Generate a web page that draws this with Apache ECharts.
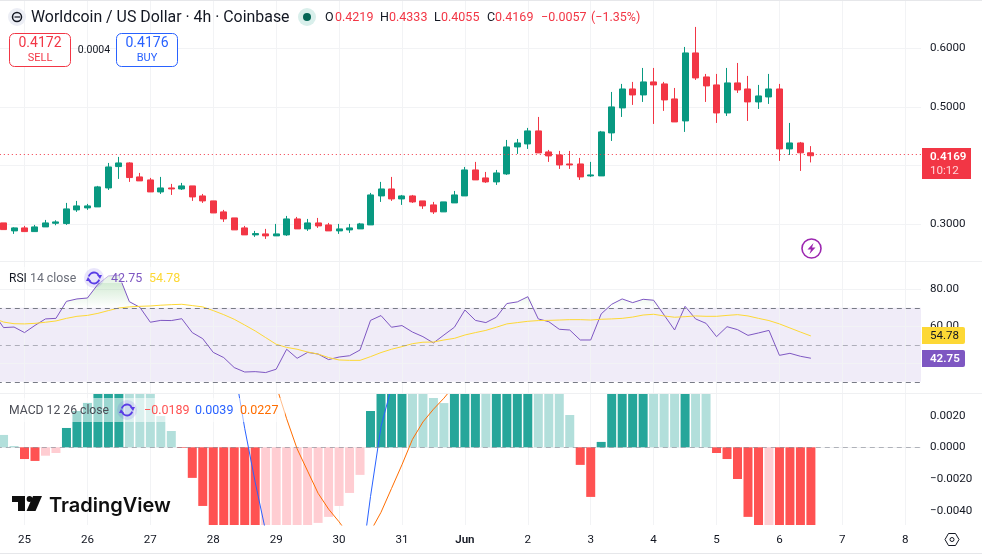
<!DOCTYPE html>
<html>
<head>
<meta charset="utf-8">
<title>Worldcoin / US Dollar</title>
<script src="https://cdn.jsdelivr.net/npm/echarts@6/dist/echarts.min.js"></script>
<style>
  html, body { margin: 0; padding: 0; background: #fff; }
  #chart { width: 982px; height: 556px; }
</style>
</head>
<body>
<div id="chart"></div>
<script>
// Four-hour bars: open, close, low, high. The first bar lies just left of the visible range.
const candles = [
  [.3050,.3024,.3000,.3070],
  [.3024,.2910,.2910,.3024],[.2888,.2939,.2837,.2950],[.2939,.2876,.2871,.2973],[.2876,.2956,.2871,.2990],
  [.2956,.3024,.2956,.3075],[.3018,.3041,.2984,.3069],[.3013,.3263,.2990,.3365],[.3246,.3314,.3212,.3399],
  [.3280,.3314,.3246,.3348],[.3297,.3638,.3297,.3655],[.3620,.3978,.3586,.4046],[.3984,.4046,.3774,.4149],
  [.4046,.3797,.3723,.4058],[.3808,.3740,.3740,.3876],[.3757,.3552,.3552,.3791],[.3552,.3620,.3518,.3808],
  [.3620,.3603,.3501,.3689],[.3603,.3655,.3586,.3706],[.3655,.3467,.3399,.3655],[.3484,.3399,.3365,.3518],
  [.3399,.3194,.3194,.3399],[.3212,.3092,.3041,.3246],[.3109,.2905,.2905,.3109],[.2939,.2820,.2820,.2973],
  [.2820,.2842,.2786,.2888],[.2837,.2803,.2751,.2922],[.2803,.2837,.2803,.3007],[.2820,.3092,.2803,.3143],
  [.3092,.2922,.2922,.3126],[.2922,.3024,.2888,.3092],[.3024,.2973,.2939,.3109],[.2990,.2888,.2888,.3024],
  [.2888,.2922,.2837,.3007],[.2905,.2939,.2854,.3007],[.2922,.3007,.2922,.3024],[.2990,.3501,.2990,.3535],
  [.3484,.3603,.3382,.3723],[.3603,.3433,.3399,.3808],[.3433,.3484,.3331,.3501],[.3484,.3382,.3365,.3501],
  [.3399,.3314,.3263,.3399],[.3331,.3212,.3177,.3382],[.3212,.3382,.3212,.3382],[.3365,.3501,.3365,.3569],
  [.3484,.3927,.3484,.3978],[.3927,.3757,.3757,.4064],[.3791,.3723,.3706,.3893],[.3723,.3876,.3672,.3927],
  [.3859,.4319,.3842,.4438],[.4319,.4387,.4200,.4455],[.4370,.4592,.4285,.4643],[.4592,.4217,.4217,.4830],
  [.4234,.4166,.4064,.4268],[.4183,.4012,.3944,.4251],[.4029,.4012,.3944,.4251],[.4029,.3808,.3757,.4132],
  [.3825,.3842,.3808,.4064],[.3825,.4575,.3825,.4592],[.4558,.5001,.4421,.5256],[.4984,.5307,.4830,.5393],
  [.5307,.5205,.5035,.5427],[.5205,.5427,.5086,.5665],[.5427,.5376,.4711,.5665],[.5393,.5120,.4933,.5427],
  [.5137,.4745,.4745,.5324],[.4762,.5921,.4575,.6023],[.5921,.5495,.5461,.6364],[.5512,.5359,.5086,.5563],
  [.5376,.4898,.4728,.5563],[.4898,.5410,.4847,.5665],[.5410,.5290,.5239,.5750],[.5307,.5086,.4762,.5529],
  [.5086,.5188,.4967,.5376],[.5171,.5307,.5052,.5563],[.5307,.4285,.4081,.5393],[.4285,.4387,.4183,.4728],
  [.4387,.4219,.3910,.4404],[.4219,.4169,.4055,.4333]
];

const rsiValues = [
  67.4,
  59.3,59.6,56.6,60.5,64.0,64.3,73.5,74.8,75.3,82.7,87.2,87.6,73.3,70.3,62.2,63.2,63.1,64.1,56.6,53.3,
  45.9,43.1,37.7,35.3,35.5,35.0,36.8,47.6,42.7,45.9,45.0,42.0,43.4,44.1,47.2,63.2,65.8,59.5,60.4,56.9,
  54.4,51.0,55.3,59.5,68.8,63.2,62.0,64.9,72.3,73.2,76.0,64.0,62.5,58.4,58.0,52.6,52.6,66.7,71.9,74.8,
  72.8,74.6,74.1,66.1,58.0,70.8,64.0,61.6,54.4,59.8,58.2,55.1,56.4,57.8,44.3,45.4,43.8,42.75
];

const rsiAverage = [
  64.5,
  62.3,61.4,61.3,61.6,62.2,62.9,64.3,65.4,65.9,67.0,68.5,69.9,70.5,70.8,71.0,71.4,71.7,71.9,71.2,70.5,
  68.5,66.3,63.8,60.7,57.5,53.9,50.3,48.6,47.6,46.1,45.0,43.1,41.8,41.6,41.6,43.6,45.8,47.6,49.0,50.6,
  51.4,51.5,52.6,53.5,55.3,56.6,57.8,59.5,61.3,62.0,62.7,63.1,63.2,63.4,63.6,63.6,63.4,63.8,64.0,64.3,
  65.0,66.1,66.5,65.6,64.9,65.2,65.6,65.4,65.4,65.9,66.3,65.6,64.3,63.1,61.3,59.1,56.9,54.78
];

const macdHistogram = [
  .00095,
  .00078,.00008,-.00074,-.00086,-.00053,-.00036,.00122,.00229,.0028,.0040,.0048,.0052,.0048,.0040,.0034,.00197,
  .00103,-.00004,-.00193,-.0037,-.0060,-.0075,-.0090,-.0105,-.0115,-.0110,-.0100,-.0085,-.0072,-.0058,-.00477,-.00439,
  -.0037,-.00288,-.00174,.00229,.0054,.0065,.0080,.0075,.0060,.00311,.00279,.0045,.0060,.0075,.0068,.0078,
  .0095,.0110,.0120,.0105,.0085,.0050,.00204,-.00111,-.00313,.00034,.0040,.0062,.0072,.0085,.0080,.0074,
  .0068,.0090,.0075,.0050,-.00036,-.00074,-.0020,-.00439,-.0065,-.0060,-.0115,-.0140,-.0165,-.0189
];

const macdLine = [
  .0062,
  .0060,.0058,.0052,.0048,.0052,.0058,.0075,.0095,.0125,.0160,.0205,.0235,.0235,.0225,.0205,.0190,.0175,.0160,.0130,.0105,
  .0085,.0085,.0051,.0012,-.0022,-.0053,-.0080,-.0098,-.0110,-.0125,-.0135,-.0140,-.0135,-.0125,-.0081,-.0031,.0013,.0038,.0065,.0085,
  .0090,.0085,.0085,.0095,.0115,.0135,.0150,.0175,.0210,.0245,.0275,.0280,.0270,.0240,.0220,.0190,.0180,.0215,.0270,.0320,
  .0350,.0385,.0395,.0400,.0395,.0430,.0430,.0395,.0365,.0345,.0310,.0260,.0225,.0210,.0135,.0095,.0065,.0039
];

const macdSignal = [
  .0066,
  .0065,.0064,.0062,.0060,.0059,.0058,.0060,.0065,.0075,.0085,.0100,.0118,.0135,.0150,.0160,.0168,.0172,.0170,.0165,.0155,
  .0142,.0128,.0112,.0098,.0082,.0058,.0039,.0018,-.0001,-.0015,-.0029,-.0039,-.0047,-.0056,-.0057,-.0053,-.0041,-.0026,-.0011,.0005,
  .0016,.0024,.0031,.0039,.0051,.0065,.0082,.0098,.0115,.0135,.0155,.0175,.0190,.0205,.0215,.0213,.0208,.0210,.0220,.0240,
  .0265,.0290,.0310,.0325,.0335,.0345,.0355,.0360,.0360,.0360,.0355,.0345,.0335,.0320,.0300,.0280,.0253,.0227
];

const dayLabels = ['25','26','27','28','29','30','31','Jun','2','3','4','5','6','7','8'];
const priceTicks = [0.6, 0.5, 0.4, 0.3];
const priceTickLabels = [0.6, 0.5, 0.3];
const rsiGridTicks = [80, 60, 40];
const rsiTickLabels = [80, 60];
const macdGridTicks = [0.002, -0.002, -0.004];
const macdTickLabels = [0.002, 0, -0.002, -0.004];
const lastClose = 0.4169;

const UI_FONT = 'Roboto, "Noto Sans", sans-serif';
const TEXT = '#131722';
const MUTED = '#6a6d78';
const GRID = '#f2f3f5';
const UP = '#089981';
const DOWN = '#f23645';

const barCount = 89;
const firstDayBar = 3;
const barsPerDay = 6;
const dayIndex = dayLabels.map((_, i) => firstDayBar + i * barsPerDay);
const categories = Array.from({ length: barCount }, (_, i) => {
  const at = dayIndex.indexOf(i);
  return at >= 0 ? dayLabels[at] : 'bar' + i;
});

// Histogram shade depends on the sign and on whether the value grew since the previous bar
const histogramColor = macdHistogram.map((v, i) => {
  const rising = i > 0 && v > macdHistogram[i - 1];
  if (v >= 0) return rising ? '#26a69a' : '#b2dfdb';
  return rising ? '#ffcdd2' : '#ff5252';
});

const overbought = rsiValues.map(v => Math.max(v, 70));

// The leading bars sit off the left edge, so the panes overhang the canvas
const gridFrame = { left: -12.185, width: 933.185, outerBoundsMode: 'none' };
const grids = [
  { ...gridFrame, top: 1, height: 260 },
  { ...gridFrame, top: 261, height: 132.5 },
  { ...gridFrame, top: 394, height: 131 }
];

function xAxisFor(gridIndex, showLabels) {
  return {
    type: 'category', gridIndex, data: categories, boundaryGap: true,
    axisLine: { show: false }, axisTick: { show: false }, splitLine: { show: false },
    axisLabel: {
      show: showLabels, margin: 9, fontFamily: UI_FONT, fontSize: 11.6, color: TEXT,
      interval: i => dayIndex.includes(i), hideOverlap: false,
      formatter: v => v === 'Jun' ? '{m|Jun}' : v,
      rich: { m: { fontFamily: UI_FONT, fontSize: 11.6, fontWeight: 600, color: TEXT } }
    }
  };
}

function yAxisFor(gridIndex, min, max, customValues, decimals) {
  return {
    type: 'value', gridIndex, position: 'right', min, max, scale: true,
    axisLine: { show: false }, axisTick: { show: false }, splitLine: { show: false },
    axisLabel: {
      margin: 9, fontFamily: UI_FONT, fontSize: 11.6, color: TEXT, align: 'left', padding: [2, 0, 0, 0], customValues,
      formatter: v => v.toFixed(decimals).replace('-', '\u2212')
    }
  };
}

// Carrier series for the pane's faint grid
function gridSeries(i, yValues) {
  const lines = dayIndex.map(x => ({ xAxis: x })).concat(yValues.map(y => ({ yAxis: y })));
  return {
    type: 'line', xAxisIndex: i, yAxisIndex: i, data: [], z: 1, silent: true,
    markLine: {
      z: 1, silent: true, symbol: 'none', label: { show: false }, animation: false,
      lineStyle: { color: GRID, width: 1, type: 'solid' }, data: lines
    }
  };
}

function hline(y, x1, x2, color, type) {
  return { type: 'line', z: 40, shape: { x1, y1: y, x2, y2: y }, style: { stroke: color, lineWidth: 1, lineDash: type } };
}
function label(text, x, y, fill, font, align) {
  return { type: 'text', z: 70, style: { text, x, y: y + 0.8, fill, font, textAlign: align || 'left', textVerticalAlign: 'middle' } };
}
function refreshIcon(cx, cy) {
  return [
    { type: 'circle', z: 60, shape: { cx, cy, r: 10 }, style: { fill: 'rgba(98,70,230,0.14)' } },
    { type: 'arc', z: 61, shape: { cx, cy, r: 5.5, startAngle: 3.4, endAngle: 5.7 }, style: { stroke: '#5a3de6', lineWidth: 1.8, fill: null } },
    { type: 'arc', z: 61, shape: { cx, cy, r: 5.5, startAngle: 0.3, endAngle: 2.6 }, style: { stroke: '#5a3de6', lineWidth: 1.8, fill: null } },
    { type: 'polygon', z: 61, shape: { points: [[cx + 3, cy - 3], [cx + 8, cy - 3], [cx + 6, cy + 1]] }, style: { fill: '#5a3de6' } },
    { type: 'polygon', z: 61, shape: { points: [[cx - 3, cy + 3], [cx - 8, cy + 3], [cx - 6, cy - 1]] }, style: { fill: '#5a3de6' } }
  ];
}

const HEAD = '12.5px ' + UI_FONT;
const overlay = [
  // frame lines
  hline(0.5, 0, 982, '#e6e7ea'), hline(553.5, 0, 982, '#e6e7ea'),
  hline(261.5, 0, 982, '#eff0f2'), hline(393.5, 0, 982, '#eff0f2'),

  // veils behind the pane captions
  { type: 'rect', z: 50, shape: { x: 0, y: 267, width: 184, height: 16 }, style: { fill: 'rgba(255,255,255,0.55)' } },
  { type: 'rect', z: 50, shape: { x: 0, y: 398, width: 285, height: 24 }, style: { fill: 'rgba(255,255,255,0.55)' } },

  // header line
  { type: 'circle', z: 60, shape: { cx: 17, cy: 17, r: 9 }, style: { fill: '#eceef5' } },
  { type: 'circle', z: 61, shape: { cx: 17, cy: 17, r: 4.5 }, style: { fill: null, stroke: TEXT, lineWidth: 1.5 } },
  { type: 'line', z: 61, shape: { x1: 14.5, y1: 17, x2: 20, y2: 17 }, style: { stroke: TEXT, lineWidth: 1.2 } },
  label('Worldcoin / US Dollar \u00b7 4h \u00b7 Coinbase', 31, 17.5, TEXT, '15.9px ' + UI_FONT),
  { type: 'circle', z: 60, shape: { cx: 307, cy: 17, r: 9 }, style: { fill: '#d9efeb' } },
  { type: 'circle', z: 61, shape: { cx: 307, cy: 17, r: 4 }, style: { fill: '#056656' } },
  label('O', 325, 17.5, TEXT, HEAD), label('0.4219', 335, 17.5, DOWN, HEAD),
  label('H', 380, 17.5, TEXT, HEAD), label('0.4333', 389, 17.5, DOWN, HEAD),
  label('L', 434, 17.5, TEXT, HEAD), label('0.4055', 441, 17.5, DOWN, HEAD),
  label('C', 487, 17.5, TEXT, HEAD), label('0.4169', 495, 17.5, DOWN, HEAD),
  label('\u22120.0057', 541, 17.5, DOWN, HEAD), label('(\u22121.35%)', 591, 17.5, DOWN, HEAD),

  // sell / buy boxes
  { type: 'rect', z: 60, shape: { x: 9.5, y: 33.5, width: 61, height: 33, r: 5 }, style: { fill: '#fff', stroke: DOWN, lineWidth: 1 } },
  label('0.4172', 40, 43, DOWN, '14px ' + UI_FONT, 'center'), label('SELL', 40, 57.5, DOWN, '11px ' + UI_FONT, 'center'),
  label('0.0004', 94, 50, TEXT, '10.5px ' + UI_FONT, 'center'),
  { type: 'rect', z: 60, shape: { x: 116.5, y: 33.5, width: 61, height: 33, r: 5 }, style: { fill: '#fff', stroke: '#2962ff', lineWidth: 1 } },
  label('0.4176', 147, 43, '#2962ff', '14px ' + UI_FONT, 'center'), label('BUY', 147, 57.5, '#2962ff', '11px ' + UI_FONT, 'center'),

  // last price tag
  { type: 'rect', z: 60, shape: { x: 922, y: 148, width: 49, height: 31 }, style: { fill: DOWN } },
  label('0.4169', 930, 156, '#fff', '600 11.6px ' + UI_FONT), label('10:12', 930, 170.5, '#ffd5d9', '11.6px ' + UI_FONT),

  // lightning badge
  { type: 'circle', z: 60, shape: { cx: 811.5, cy: 248.5, r: 9.5 }, style: { fill: '#fff', stroke: '#9c27b0', lineWidth: 1.6 } },
  { type: 'polygon', z: 61, shape: { points: [[813.5, 243], [807.5, 249.5], [811, 249.5], [809.5, 254], [815.5, 247.5], [812, 247.5]] }, style: { fill: '#9c27b0' } },

  // RSI caption and tags
  label('RSI', 9, 278.5, TEXT, '12px ' + UI_FONT), label('14 close', 30, 278.5, MUTED, '12.3px ' + UI_FONT),
  ...refreshIcon(94, 278),
  label('42.75', 111, 278.5, '#7e57c2', HEAD), label('54.78', 149, 278.5, '#fdd835', HEAD),
  { type: 'rect', z: 60, shape: { x: 922, y: 327, width: 43, height: 17, r: [0, 2, 2, 0] }, style: { fill: '#fdd835' } },
  label('54.78', 930, 335, TEXT, '11.6px ' + UI_FONT),
  { type: 'rect', z: 60, shape: { x: 922, y: 350, width: 43, height: 17, r: [0, 2, 2, 0] }, style: { fill: '#7e57c2' } },
  label('42.75', 930, 358, '#fff', '600 11.6px ' + UI_FONT),

  // MACD caption
  label('MACD 12 26 close', 9, 410, '#4c4e57', '12.2px ' + UI_FONT),
  ...refreshIcon(127, 410),
  label('\u22120.0189', 144, 410, '#ff5252', HEAD),
  label('0.0039', 195, 410, '#2962ff', HEAD),
  label('0.0227', 240, 410, '#ff6d00', HEAD),

  // wordmark
  { type: 'polygon', z: 60, shape: { points: [[12, 496], [25, 496], [25, 511], [18, 511], [18, 502], [12, 502]] }, style: { fill: '#0f0f0f' } },
  { type: 'circle', z: 60, shape: { cx: 29.5, cy: 499, r: 2.9 }, style: { fill: '#0f0f0f' } },
  { type: 'polygon', z: 60, shape: { points: [[33, 496], [42, 496], [35.5, 511], [26.5, 511]] }, style: { fill: '#0f0f0f' } },
  label('TradingView', 49, 505, '#0f0f0f', '600 20px Inter, ' + UI_FONT),

  // settings hexagon
  { type: 'polygon', z: 60, shape: { points: [[945, 539.5], [948.5, 533.5], [955.5, 533.5], [959, 539.5], [955.5, 545.5], [948.5, 545.5]] }, style: { fill: '#fff', stroke: TEXT, lineWidth: 1 } },
  { type: 'circle', z: 61, shape: { cx: 952, cy: 539.5, r: 2 }, style: { fill: '#fff', stroke: TEXT, lineWidth: 1 } }
];

const chart = echarts.init(document.getElementById('chart'), null, { renderer: 'canvas' });
chart.setOption({
  animation: false,
  backgroundColor: '#ffffff',
  grid: grids,
  xAxis: [xAxisFor(0, false), xAxisFor(1, false), xAxisFor(2, true)],
  yAxis: [
    yAxisFor(0, 0.2375, 0.6806, priceTickLabels, 4),
    yAxisFor(1, 23.68, 95.3, rsiTickLabels, 2),
    yAxisFor(2, -0.004902, 0.003363, macdTickLabels, 4)
  ],
  graphic: { elements: overlay },
  series: [
    gridSeries(0, priceTicks),
    gridSeries(1, rsiGridTicks),
    gridSeries(2, macdGridTicks),
    {
      type: 'candlestick', xAxisIndex: 0, yAxisIndex: 0, data: candles, barWidth: 6.5, z: 3,
      itemStyle: { color: UP, borderColor: UP, color0: DOWN, borderColor0: DOWN, borderWidth: 1 },
      markLine: {
        silent: true, symbol: 'none', label: { show: false }, animation: false,
        lineStyle: { color: DOWN, width: 1, type: [1, 3] }, data: [{ yAxis: lastClose }]
      }
    },
    {
      name: 'RSI', type: 'line', xAxisIndex: 1, yAxisIndex: 1, data: rsiValues, symbol: 'none', z: 4,
      lineStyle: { color: '#7e57c2', width: 1 },
      markArea: {
        z: 1, silent: true, animation: false, itemStyle: { color: 'rgba(126,87,194,0.115)' },
        data: [[{ yAxis: 70 }, { yAxis: 30 }]]
      },
      markLine: {
        silent: true, symbol: 'none', label: { show: false }, animation: false,
        data: [
          { yAxis: 70, lineStyle: { color: '#787b86', width: 1, type: [5, 4] } },
          { yAxis: 50, lineStyle: { color: 'rgba(120,123,134,0.55)', width: 1, type: [5, 4] } },
          { yAxis: 30, lineStyle: { color: '#787b86', width: 1, type: [5, 4] } }
        ]
      }
    },
    {
      name: 'RSI-based MA', type: 'line', xAxisIndex: 1, yAxisIndex: 1, data: rsiAverage, symbol: 'none', z: 4,
      lineStyle: { color: '#fdd835', width: 1 }
    },
    {
      name: 'Overbought fill', type: 'line', xAxisIndex: 1, yAxisIndex: 1, data: overbought, symbol: 'none', z: 3,
      lineStyle: { width: 0, opacity: 0 },
      areaStyle: {
        origin: 70,
        color: { type: 'linear', x: 0, y: 0, x2: 0, y2: 1, colorStops: [
          { offset: 0, color: 'rgba(76,175,80,0.45)' }, { offset: 1, color: 'rgba(76,175,80,0)' }
        ] }
      }
    },
    {
      name: 'Histogram', type: 'bar', xAxisIndex: 2, yAxisIndex: 2, barWidth: 9, z: 3,
      data: macdHistogram.map((v, i) => ({ value: v, itemStyle: { color: histogramColor[i] } })),
      markLine: {
        silent: true, symbol: 'none', label: { show: false }, animation: false, z: 5,
        lineStyle: { color: 'rgba(120,123,134,0.55)', width: 1, type: [5, 4] }, data: [{ yAxis: 0 }]
      }
    },
    {
      name: 'MACD', type: 'line', xAxisIndex: 2, yAxisIndex: 2, data: macdLine, symbol: 'none', z: 4,
      lineStyle: { color: '#2962ff', width: 1 }
    },
    {
      name: 'Signal', type: 'line', xAxisIndex: 2, yAxisIndex: 2, data: macdSignal, symbol: 'none', z: 4,
      lineStyle: { color: '#ff6d00', width: 1 }
    }
  ]
});
</script>
</body>
</html>
